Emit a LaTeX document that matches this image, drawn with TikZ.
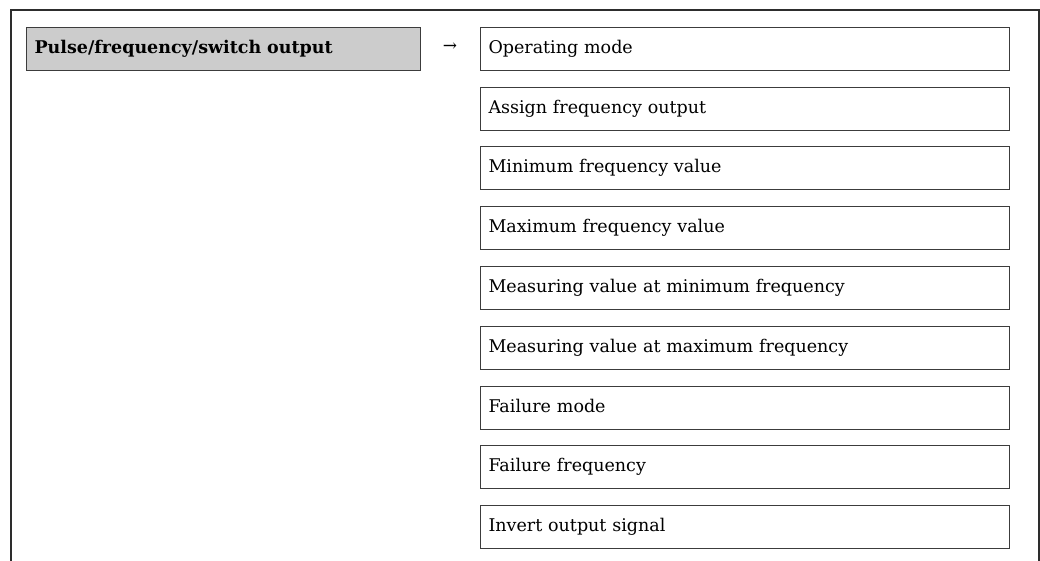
\documentclass[tikz,border=0pt]{standalone}
\usepackage{fontspec}
\setmainfont{DejaVu Serif}
\definecolor{hdrfill}{RGB}{204,204,204}
\definecolor{framecol}{RGB}{45,45,45}
\definecolor{boxcol}{RGB}{60,60,60}
\begin{document}
\begin{tikzpicture}[x=1pt,y=-1pt,
  every node/.style={font=\fontsize{17.5}{20}\selectfont},
  param/.style={draw=boxcol, line width=1pt, anchor=north west, inner xsep=8pt, inner ysep=0pt,
    text width=513pt, align=left, minimum height=43pt, text height=13pt, text depth=4pt, text=black},
  hdr/.style={param, fill=hdrfill, text width=378pt, font=\fontsize{17.5}{20}\selectfont\bfseries},
  framel/.style={draw=framecol, line width=1.2pt}]
\useasboundingbox (0,0) rectangle (1040,561);
% frame
\coordinate (ftl) at (11,10);
\coordinate (ftr) at (1039,10);
\coordinate (fbl) at (11,561);
\coordinate (fbr) at (1039,561);
\draw[framel] (fbl) -- (ftl) -- (ftr) -- (fbr);
% header
\node[hdr] (h) at (26,27) {Pulse/frequency/switch output};
\node[inner sep=0pt, font=\fontsize{17}{19}\selectfont] (arr) at (450,47) {→};
% parameters
\node[param] (p1) at (480,27.00) {Operating mode};
\node[param] (p2) at (480,86.75) {Assign frequency output};
\node[param] (p3) at (480,146.50) {Minimum frequency value};
\node[param] (p4) at (480,206.25) {Maximum frequency value};
\node[param] (p5) at (480,266.00) {Measuring value at minimum frequency};
\node[param] (p6) at (480,325.75) {Measuring value at maximum frequency};
\node[param] (p7) at (480,385.50) {Failure mode};
\node[param] (p8) at (480,445.25) {Failure frequency};
\node[param] (p9) at (480,505.00) {Invert output signal};
\end{tikzpicture}
\end{document}
